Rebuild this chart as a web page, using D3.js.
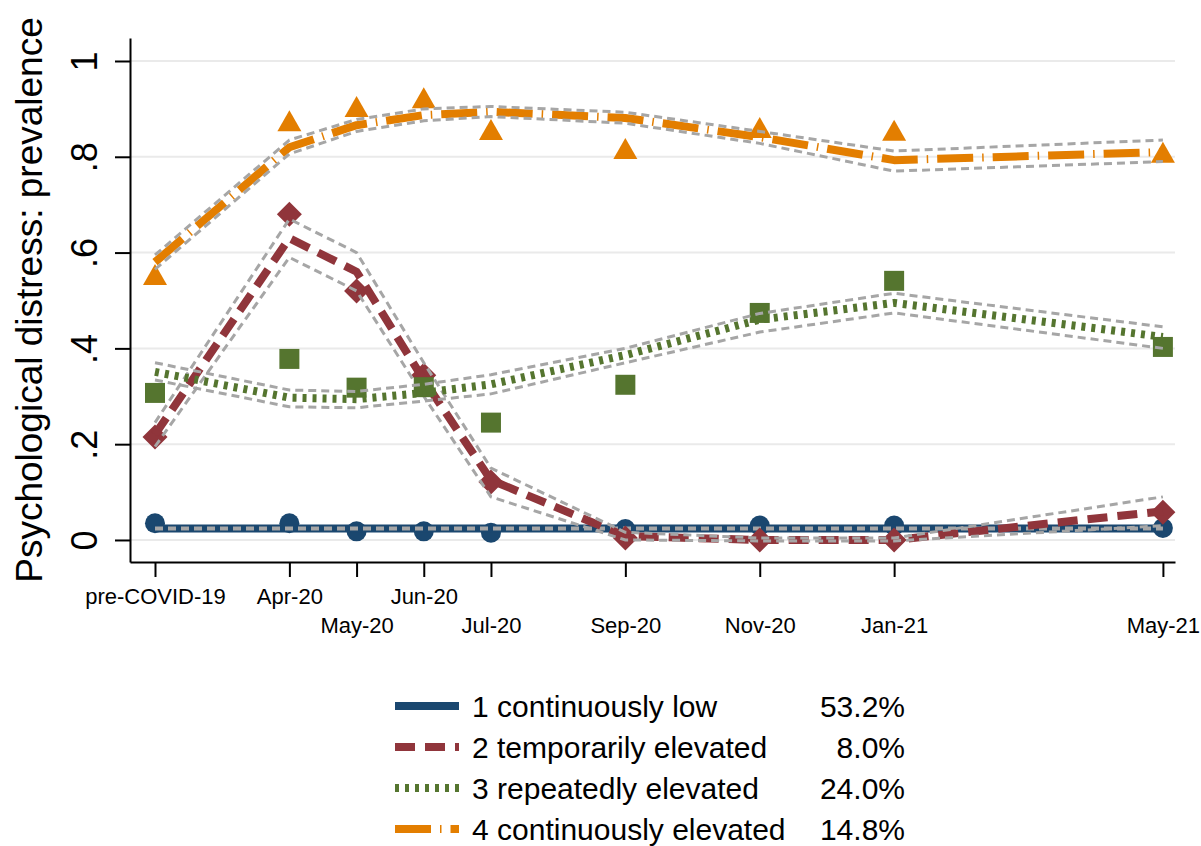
<!DOCTYPE html>
<html>
<head>
<meta charset="utf-8">
<script src="https://cdn.jsdelivr.net/npm/d3@7"></script>
<style>
  body { margin: 0; background: #fff; }
  svg { font-family: Arial, "Liberation Sans", sans-serif; }
</style>
</head>
<body>
<div id="chart"></div>
<script>
// waves (x position = months after Feb 2020)
var periods = ["pre-COVID-19", "Apr-20", "May-20", "Jun-20", "Jul-20", "Sep-20", "Nov-20", "Jan-21", "May-21"];
var months = [0, 2, 3, 4, 5, 7, 9, 11, 15];
var labelRow = [0, 0, 1, 0, 1, 1, 1, 1, 1];

var classNames = ["1 continuously low", "2 temporarily elevated", "3 repeatedly elevated", "4 continuously elevated"];
var classShares = ["53.2%", "8.0%", "24.0%", "14.8%"];

// class 1
var obs1 = [0.035, 0.035, 0.018, 0.018, 0.015, 0.023, 0.030, 0.030, 0.025];
var fit1 = [0.024, 0.024, 0.024, 0.024, 0.024, 0.024, 0.024, 0.024, 0.024];
var lo1  = [0.023, 0.023, 0.023, 0.023, 0.023, 0.023, 0.023, 0.023, 0.023];
var hi1  = [0.025, 0.025, 0.025, 0.025, 0.025, 0.025, 0.025, 0.025, 0.025];
// class 2
var obs2 = [0.215, 0.68, 0.52, 0.344, 0.121, 0.004, 0.0, 0.0, 0.058];
var fit2 = [0.22, 0.63, 0.56, 0.334, 0.125, 0.008, 0.0, 0.0, 0.06];
var lo2  = [0.195, 0.59, 0.52, 0.30, 0.09, 0.0, -0.002, -0.002, 0.03];
var hi2  = [0.245, 0.67, 0.60, 0.37, 0.15, 0.016, 0.004, 0.004, 0.09];
// class 3
var obs3 = [0.307, 0.378, 0.318, 0.319, 0.245, 0.324, 0.474, 0.541, 0.403];
var fit3 = [0.351, 0.297, 0.294, 0.307, 0.325, 0.386, 0.46, 0.495, 0.424];
var lo3  = [0.334, 0.278, 0.276, 0.29, 0.305, 0.37, 0.434, 0.474, 0.40];
var hi3  = [0.37, 0.313, 0.31, 0.325, 0.345, 0.40, 0.473, 0.515, 0.445];
// class 4
var obs4 = [0.549, 0.87, 0.90, 0.918, 0.852, 0.812, 0.856, 0.85, 0.804];
var fit4 = [0.58, 0.82, 0.866, 0.887, 0.894, 0.881, 0.841, 0.793, 0.81];
var lo4  = [0.565, 0.806, 0.853, 0.875, 0.884, 0.87, 0.828, 0.77, 0.79];
var hi4  = [0.595, 0.835, 0.878, 0.90, 0.905, 0.893, 0.853, 0.812, 0.835];

var yTicks = [0, 0.2, 0.4, 0.6, 0.8, 1];

var w = 1201;
var h = 846;

var colors = ["#1a476f", "#90353b", "#55752f", "#e37e00"];
var dashes = [null, "20,10", "4,6", "36,9,1.5,9"];
var ciGrey = "#a6a6a6";

var classes = [
  {obs: obs1, fit: fit1, lo: lo1, hi: hi1, shape: "circle"},
  {obs: obs2, fit: fit2, lo: lo2, hi: hi2, shape: "diamond"},
  {obs: obs3, fit: fit3, lo: lo3, hi: hi3, shape: "square"},
  {obs: obs4, fit: fit4, lo: lo4, hi: hi4, shape: "triangle"}
];

var x = d3.scaleLinear().domain([-0.372, 15.18]).range([130, 1175]);
var y = d3.scaleLinear().domain([-0.046, 1.048]).range([562, 38]);

var svg = d3.select("#chart").append("svg")
   .attr("width", w)
   .attr("height", h);

// grid
svg.selectAll("line.grid")
   .data(yTicks)
   .enter()
   .append("line")
   .attr("class", "grid")
   .attr("x1", x.range()[0])
   .attr("x2", x.range()[1])
   .attr("y1", function(d) { return y(d); })
   .attr("y2", function(d) { return y(d); })
   .attr("stroke", "#eaeaea")
   .attr("stroke-width", 2);

function markerPath(shape) {
  if (shape == "circle") return "M-10,0A10,10 0 1,0 10,0A10,10 0 1,0 -10,0Z";
  if (shape == "diamond") return "M0,-12.5L12.5,0L0,12.5L-12.5,0Z";
  if (shape == "square") return "M-10,-10H10V10H-10Z";
  return "M0,-13L12,8L-12,8Z";
}

var line = function(vals) {
  return d3.line()
    .x(function(d, i) { return x(months[i]); })
    .y(function(d) { return y(d); })(vals);
};

// one class at a time: markers, fitted line, CI on top
classes.forEach(function(c, k) {
  var g = svg.append("g");

  g.selectAll("path.mk")
   .data(c.obs)
   .enter()
   .append("path")
   .attr("class", "mk")
   .attr("d", markerPath(c.shape))
   .attr("transform", function(d, i) { return "translate(" + x(months[i]) + "," + y(d) + ")"; })
   .attr("fill", colors[k]);

  g.append("path")
   .attr("d", line(c.fit))
   .attr("fill", "none")
   .attr("stroke", colors[k])
   .attr("stroke-width", 8)
   .attr("stroke-dasharray", dashes[k])
   .attr("stroke-linejoin", "round");

  [c.lo, c.hi].forEach(function(ci) {
    g.append("path")
     .attr("d", line(ci))
     .attr("fill", "none")
     .attr("stroke", ciGrey)
     .attr("stroke-width", 3)
     .attr("stroke-dasharray", "8,5");
  });
});

// y axis
var yAxis = svg.append("g")
   .attr("transform", "translate(130,0)")
   .call(d3.axisLeft(y).tickValues(yTicks).tickSize(15).tickSizeOuter(0)
     .tickFormat(function(d) { return d == 0 || d == 1 ? String(d) : d3.format(".1f")(d).replace(/^0/, ""); }));
yAxis.select(".domain").attr("stroke", "#000").attr("stroke-width", 2);
yAxis.selectAll(".tick line").attr("stroke", "#000").attr("stroke-width", 2);
yAxis.selectAll(".tick text")
   .attr("x", null)
   .attr("dy", null)
   .attr("transform", "translate(-33,0) rotate(-90)")
   .attr("text-anchor", "middle")
   .attr("font-size", "36px")
   .attr("font-family", "Arial, 'Liberation Sans', sans-serif")
   .attr("fill", "#000");

// x axis
var xAxis = svg.append("g")
   .attr("transform", "translate(0,562)")
   .call(d3.axisBottom(x).tickValues(months).tickSize(15).tickSizeOuter(0)
     .tickFormat(function(d, i) { return periods[i]; }));
xAxis.select(".domain").attr("stroke", "#000").attr("stroke-width", 2);
xAxis.selectAll(".tick line").attr("stroke", "#000").attr("stroke-width", 2);
xAxis.selectAll(".tick text")
   .attr("dy", null)
   .attr("y", function(d, i) { return labelRow[i] == 0 ? 42 : 71; })
   .attr("font-size", "22px")
   .attr("font-family", "Arial, 'Liberation Sans', sans-serif")
   .attr("fill", "#000");

svg.append("text")
   .attr("transform", "translate(42,300) rotate(-90)")
   .attr("text-anchor", "middle")
   .attr("font-size", "37px")
   .text("Psychological distress: prevalence");

// legend
var legendY = [706, 747, 788, 829];
var lg = svg.selectAll("g.legend")
   .data(classNames)
   .enter()
   .append("g")
   .attr("class", "legend")
   .attr("transform", function(d, i) { return "translate(0," + legendY[i] + ")"; });

lg.append("line")
   .attr("x1", 395)
   .attr("x2", 459)
   .attr("stroke", function(d, i) { return colors[i]; })
   .attr("stroke-width", 8)
   .attr("stroke-dasharray", function(d, i) { return dashes[i]; });

lg.append("text")
   .attr("x", 472)
   .attr("y", 11)
   .attr("font-size", "30px")
   .text(function(d) { return d; });

lg.append("text")
   .attr("x", 905)
   .attr("y", 11)
   .attr("text-anchor", "end")
   .attr("font-size", "30px")
   .text(function(d, i) { return classShares[i]; });
</script>
</body>
</html>
